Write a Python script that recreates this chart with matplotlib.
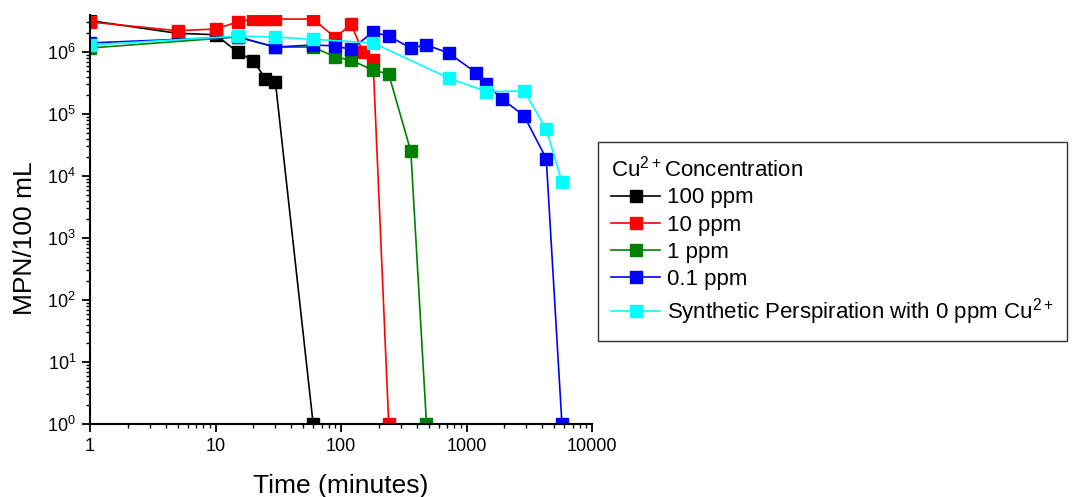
import numpy as np
import matplotlib
matplotlib.use("Agg")
import matplotlib.pyplot as plt
from matplotlib.ticker import LogLocator, NullFormatter

plt.rcParams['font.family'] = ['Liberation Sans', 'DejaVu Sans']
plt.rcParams['mathtext.default'] = 'regular'

# Time (minutes) and MPN/100 mL for each Cu2+ concentration
t_100 = [1, 5, 10, 15, 20, 25, 30, 60]
mpn_100 = [3.2e6, 2.0e6, 1.9e6, 1.0e6, 7.2e5, 3.7e5, 3.3e5, 1]

t_10 = [1, 5, 10, 15, 20, 25, 30, 60, 90, 120, 150, 180, 240]
mpn_10 = [3.05e6, 2.2e6, 2.35e6, 3.05e6, 3.4e6, 3.4e6, 3.4e6, 3.4e6,
          1.7e6, 2.8e6, 1.0e6, 7.4e5, 1]

t_1 = [1, 15, 30, 60, 90, 120, 180, 240, 360, 480]
mpn_1 = [1.16e6, 1.75e6, 1.2e6, 1.2e6, 8.3e5, 7.4e5, 5.1e5, 4.4e5, 2.5e4, 1]

t_01 = [1, 15, 30, 60, 90, 120, 180, 240, 360, 480, 720, 1200, 1440,
        1920, 2880, 4320, 5760]
mpn_01 = [1.4e6, 1.75e6, 1.2e6, 1.3e6, 1.25e6, 1.1e6, 2.1e6, 1.8e6, 1.16e6,
          1.3e6, 9.6e5, 4.6e5, 3.05e5, 1.75e5, 9.3e4, 1.9e4, 1]

t_0 = [1, 15, 30, 60, 180, 720, 1440, 2880, 4320, 5760]
mpn_0 = [1.3e6, 1.8e6, 1.75e6, 1.6e6, 1.4e6, 3.8e5, 2.3e5, 2.35e5, 5.7e4, 8e3]

series = [
    (t_100, mpn_100, 'black', '100 ppm'),
    (t_10, mpn_10, 'red', '10 ppm'),
    (t_1, mpn_1, 'green', '1 ppm'),
    (t_01, mpn_01, 'blue', '0.1 ppm'),
    (t_0, mpn_0, 'cyan', 'Synthetic Perspiration with 0 ppm Cu$^{2+}$'),
]

fig = plt.figure(figsize=(10.73, 4.97), dpi=100)
ax = fig.add_axes([90/1073, 1-424/497, (592-90)/1073, (424-15)/497])

for t, v, c, lab in series:
    ax.plot(t, v, color=c, lw=1.2, marker='s', ms=8, mec=c, label=lab)

ax.set_xscale('log')
ax.set_yscale('log')
ax.set_xlim(1, 10000)
ax.set_ylim(1, 3.95e6)

ax.spines['top'].set_visible(False)
ax.spines['right'].set_visible(False)
ax.spines['left'].set_linewidth(1.5)
ax.spines['bottom'].set_linewidth(1.5)

ax.set_xticks([1, 10, 100, 1000, 10000])
ax.set_xticklabels(['1', '10', '100', '1000', '10000'])
ax.xaxis.set_minor_locator(LogLocator(base=10, subs=np.arange(2, 10), numticks=20))
ax.xaxis.set_minor_formatter(NullFormatter())
ax.yaxis.set_major_locator(LogLocator(base=10, numticks=10))
ax.yaxis.set_minor_locator(LogLocator(base=10, subs=np.arange(2, 10), numticks=20))
ax.yaxis.set_minor_formatter(NullFormatter())

ax.tick_params(which='major', direction='out', length=6, width=1.3, labelsize=13, pad=4)
ax.tick_params(which='minor', direction='out', length=3, width=1.0)

ax.set_xlabel('Time (minutes)', fontsize=19, labelpad=14)
ax.set_ylabel('MPN/100 mL', fontsize=19)
ax.yaxis.set_label_coords(-0.105, 0.455)

leg = fig.legend(loc='upper left', bbox_to_anchor=(598/1073, 1-142/497),
                 title='Cu$^{2+}$Concentration', fontsize=16, title_fontsize=16,
                 frameon=True, fancybox=False, edgecolor='black',
                 handlelength=2.2, handletextpad=0.3, labelspacing=0.28,
                 borderpad=0.6, borderaxespad=0)
leg._legend_box.align = 'left'
leg.get_frame().set_linewidth(1.0)

fig.savefig('out.png', dpi=100)
